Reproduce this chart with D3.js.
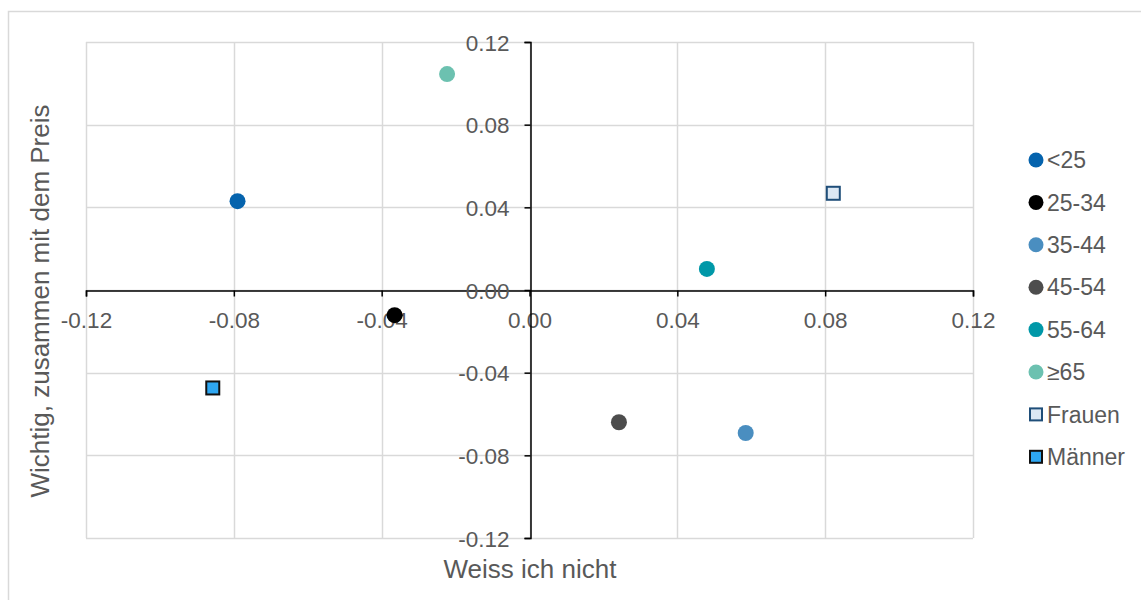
<!DOCTYPE html>
<html><head><meta charset="utf-8">
<script src="https://cdn.jsdelivr.net/npm/d3@7"></script>
<style>body{margin:0;background:#fff}svg{display:block;font-family:"Liberation Sans",Arial,sans-serif}</style>
</head><body><svg id="c" width="1141" height="600"></svg>
<script>
const seriesNames = ["<25","25-34","35-44","45-54","55-64","≥65","Frauen","Männer"];
const xValues = [-0.079,-0.0365,0.0585,0.0242,0.048,-0.0223,0.0822,-0.0857];
const yValues = [0.043,-0.0122,-0.0692,-0.0640,0.0102,0.1045,0.0468,-0.0474];
const shapes = ["circle","circle","circle","circle","circle","circle","square","square"];
const fills = ["#0563AD","#000000","#4A8EC0","#4D4D4D","#0098A8","#6CC1B0","#DCE8F4","#2EA7F2"];
const strokes = ["none","none","none","none","none","none","#1F4E79","#111111"];
const tickValues = [-0.12,-0.08,-0.04,0,0.04,0.08,0.12];
const xTitle = "Weiss ich nicht";
const yTitle = "Wichtig, zusammen mit dem Preis";

const svg = d3.select("#c");
svg.append("rect").attr("x",8.5).attr("y",11.5).attr("width",1200).attr("height",700)
  .attr("fill","none").attr("stroke","#D9D9D9").attr("stroke-width",1.5);

const x = d3.scaleLinear().domain([-0.12,0.12]).range([86,973]);
const y = d3.scaleLinear().domain([-0.12,0.12]).range([538,42]);
const fmt = v => d3.format(".2f")(v).replace("−","-");
const grid = svg.append("g");
tickValues.forEach(t=>{
  grid.append("line").attr("x1",Math.round(x(t))+0.5).attr("x2",Math.round(x(t))+0.5).attr("y1",y(0.12)).attr("y2",y(-0.12)).attr("stroke","#D9D9D9").attr("stroke-width",1.5);
  grid.append("line").attr("y1",Math.round(y(t))+0.5).attr("y2",Math.round(y(t))+0.5).attr("x1",x(-0.12)).attr("x2",x(0.12)).attr("stroke","#D9D9D9").attr("stroke-width",1.5);
});

const xAxis = d3.axisBottom(x).tickValues(tickValues).tickFormat(fmt).tickSize(6).tickPadding(8);
const gx = svg.append("g").attr("transform",`translate(0,${Math.round(y(0))+0.5})`).call(xAxis);
const yAxis = d3.axisLeft(y).tickValues(tickValues).tickFormat(fmt).tickSize(6).tickPadding(8);
const gy = svg.append("g").attr("transform",`translate(${Math.round(x(0))+0.5},0)`).call(yAxis);
[gx,gy].forEach(g=>{
  g.attr("font-size",null).attr("font-family",null);
  g.select(".domain").attr("stroke","#000").attr("stroke-width",1.5);
  g.selectAll(".tick line").attr("stroke","#000").attr("stroke-width",1.5);
  g.selectAll(".tick text").attr("fill","#595959").style("font-size","22.5px");
});
gx.selectAll(".tick text").attr("dy","0.36em").attr("y",29);
gy.selectAll(".tick text").attr("x",-21).attr("dy","0.36em");

svg.append("text").attr("x",530).attr("y",578).attr("text-anchor","middle").attr("fill","#595959").style("font-size","26px").text(xTitle);
svg.append("text").attr("transform","translate(49,301) rotate(-90)").attr("text-anchor","middle").attr("fill","#595959").style("font-size","26px").text(yTitle);

const pts = svg.append("g");
seriesNames.forEach((n,i)=>{
  const cx = x(xValues[i]), cy = y(yValues[i]);
  if(shapes[i]==="circle"){
    pts.append("circle").attr("cx",cx).attr("cy",cy).attr("r",8).attr("fill",fills[i]);
  } else {
    pts.append("rect").attr("x",cx-6.5).attr("y",cy-6.5).attr("width",13).attr("height",13).attr("fill",fills[i]).attr("stroke",strokes[i]).attr("stroke-width",2);
  }
});

const leg = svg.append("g");
seriesNames.forEach((n,i)=>{
  const ly = 160 + i*42.4;
  if(shapes[i]==="circle"){
    leg.append("circle").attr("cx",1036).attr("cy",ly).attr("r",7.5).attr("fill",fills[i]);
  } else {
    leg.append("rect").attr("x",1030).attr("y",ly-6).attr("width",12).attr("height",12).attr("fill",fills[i]).attr("stroke",strokes[i]).attr("stroke-width",2);
  }
  leg.append("text").attr("x",1047).attr("y",ly).attr("dy","0.36em").attr("fill","#595959").style("font-size","23px").text(n);
});
</script></body></html>
